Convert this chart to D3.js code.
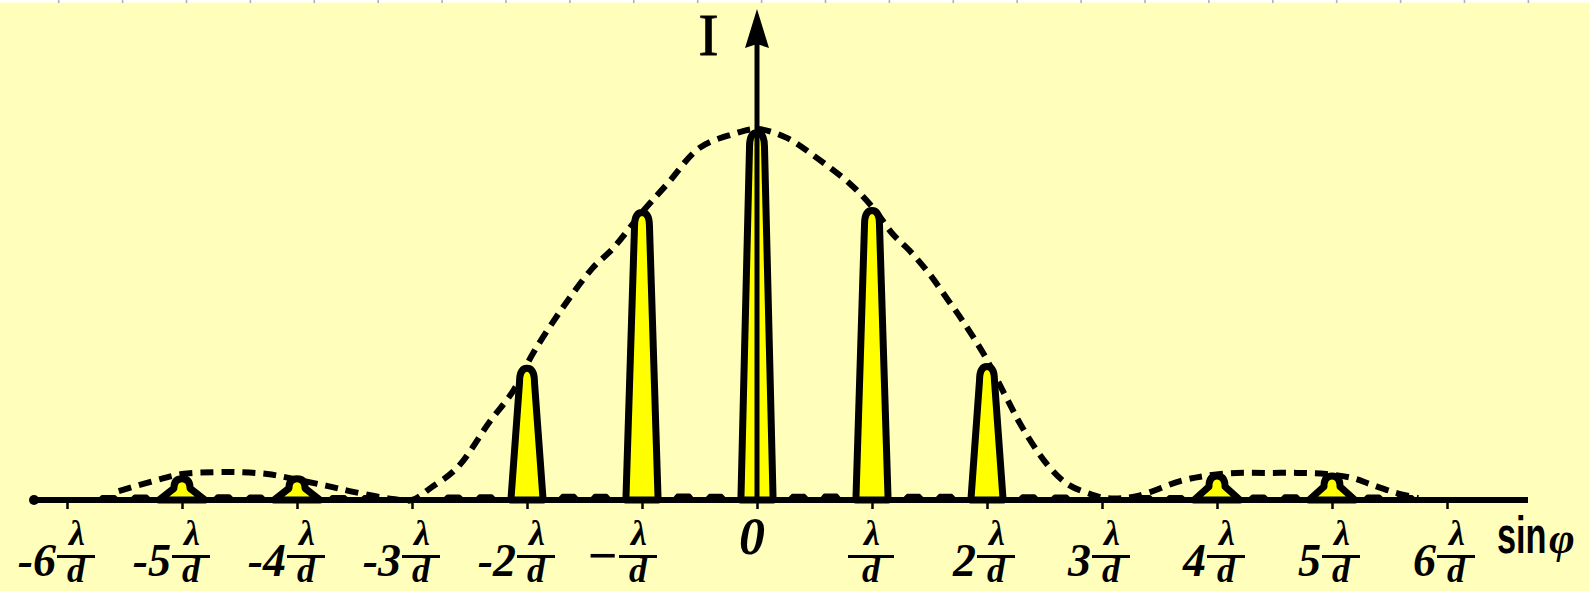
<!DOCTYPE html>
<html><head><meta charset="utf-8">
<script src="https://cdn.jsdelivr.net/npm/d3@7"></script>
<style>html,body{margin:0;padding:0;background:#ffffbb;overflow:hidden}</style>
</head><body>
<svg id="chart" width="1589" height="591"></svg>
<script>
// Diffraction grating intensity vs sin φ, x measured in units of λ/d
const orders    = [-6, -5, -4, -3, -2, -1, 0, 1, 2, 3, 4, 5, 6];
const orderCoef = ["-6", "-5", "-4", "-3", "-2", "\u2212", "0", "", "2", "3", "4", "5", "6"];

// Principal maxima, intensity in % of I0 (order ±3 falls on an envelope zero)
const peakOrders    = [-5, -4, -2, -1, 0, 1, 2, 4, 5];
const peakIntensity = [5.7, 5.7, 35.5, 77.5, 99, 78, 36, 6.5, 6.5];

// Weak secondary maxima between principal ones
const sideU = [-5.64, -5.36, -4.64, -4.36, -3.64, -3.36, -2.64, -2.36, -1.64, -1.36, -0.64, -0.36,
               0.36, 0.64, 1.36, 1.64, 2.36, 2.64, 3.36, 3.64, 4.36, 4.64, 5.36, 5.64];
const sideI = [0.9, 1.0, 1.1, 1.0, 0.9, 0.9, 1.0, 1.1, 1.2, 1.2, 1.3, 1.2,
               1.2, 1.3, 1.2, 1.2, 1.1, 1.0, 0.9, 0.9, 1.0, 1.1, 1.0, 0.9];

// Single-slit envelope (dashed)
const envU = [-5.55, -5.25, -5.0, -4.73, -4.5, -4.26, -4.03, -3.74, -3.51, -3.17, -3.0,
              -2.84, -2.61, -2.32, -2.12, -1.95, -1.69, -1.43, -1.25, -0.99, -0.78, -0.5, -0.21, 0,
              0.26, 0.52, 0.81, 1.01, 1.18, 1.33, 1.5, 1.65, 1.79, 1.97, 2.17, 2.31, 2.52, 2.7, 2.9, 3.04,
              3.3, 3.68, 3.9, 4.17, 4.43, 4.7, 4.95, 5.18, 5.33, 5.55, 5.75];
const envI = [2.4, 5.1, 7.0, 7.5, 7.5, 7.0, 5.7, 3.8, 2.2, 0.3, 0,
              3.2, 8.6, 21.3, 29.4, 39.4, 51.8, 62.5, 67.9, 77.9, 85.2, 94.9, 98.6, 100,
              97.6, 92.2, 85.2, 78.7, 71.7, 67.1, 60.9, 54.4, 48.2, 39.4, 27.5, 19.4, 9.7, 4.3, 1.6, 0.5,
              1.0, 5.1, 6.5, 7.3, 7.3, 7.3, 7.0, 5.9, 4.3, 2.0, 0.5];

const W = 1589, H = 591;
const BG = "#ffffbb", YEL = "#ffff00", INK = "#000";

const x = d3.scaleLinear().domain([-6, 6]).range([67, 1447]);
const y = d3.scaleLinear().domain([0, 100]).range([500, 129]);
const unit = x(1) - x(0);

const svg = d3.select("#chart");
svg.append("rect").attr("width", W).attr("height", H).attr("fill", BG);

// thin ruler strip along the top edge
svg.append("rect").attr("width", W).attr("height", 2.5).attr("fill", "#ffffff");
svg.append("g").selectAll("line").data(d3.range(0, 24)).join("line")
  .attr("x1", k => 58.7 + 63.9 * k).attr("x2", k => 58.7 + 63.9 * k)
  .attr("y1", 0).attr("y2", 3)
  .attr("stroke", "#a9b2c2").attr("stroke-width", 1.6);

// envelope
const env = envU.map((u, i) => [u, envI[i]]);
svg.append("path")
  .attr("d", d3.line().x(d => x(d[0])).y(d => y(d[1])).curve(d3.curveCatmullRom)(env))
  .attr("fill", "none").attr("stroke", INK).attr("stroke-width", 6)
  .attr("stroke-dasharray", "13,8");

// secondary maxima: small bumps on the axis
const side = sideU.map((u, i) => ({u, v: sideI[i]}));
svg.append("g").selectAll("path").data(side).join("path")
  .attr("d", d => {
    const cx = x(d.u), yb = y(0), yt = y(d.v), hw = 10;
    return `M${cx - hw},${yb} L${cx - hw * 0.6},${yt} L${cx + hw * 0.6},${yt} L${cx + hw},${yb} Z`;
  })
  .attr("fill", d => (d.u > -1 && d.u < 3) ? "#ffffff" : YEL)
  .attr("stroke", INK).attr("stroke-width", 3.5).attr("stroke-linejoin", "round");

// principal maxima
const peaks = peakOrders.map((m, i) => ({m, v: peakIntensity[i]}));
function peakPath(d) {
  const cx = x(d.m), yb = y(0), yt = y(d.v), h = yb - yt;
  const small = h < 40;
  const hb = (small ? 0.2 : 0.14) * unit;
  const ht = (small ? 0.07 : 0.065) * unit;
  const cap = small ? h * 0.45 : 14;
  return `M${cx - hb},${yb} L${cx - ht},${yt + cap} Q${cx - ht},${yt} ${cx},${yt}` +
         ` Q${cx + ht},${yt} ${cx + ht},${yt + cap} L${cx + hb},${yb} Z`;
}
svg.append("g").selectAll("path").data(peaks).join("path")
  .attr("d", peakPath)
  .attr("fill", YEL).attr("stroke", INK).attr("stroke-width", 7).attr("stroke-linejoin", "round");

// horizontal axis
svg.append("line").attr("x1", 33).attr("x2", 1528).attr("y1", y(0)).attr("y2", y(0))
  .attr("stroke", INK).attr("stroke-width", 6);
svg.append("circle").attr("cx", 34).attr("cy", y(0)).attr("r", 5).attr("fill", INK);
const axis = svg.append("g").attr("transform", `translate(0,${y(0)})`)
  .call(d3.axisBottom(x).tickValues(orders).tickSize(9).tickFormat(""));
axis.select(".domain").remove();
axis.selectAll(".tick line").attr("stroke", INK).attr("stroke-width", 2.5);

// vertical axis I with arrow
svg.append("line").attr("x1", x(0)).attr("x2", x(0)).attr("y1", y(0)).attr("y2", 44)
  .attr("stroke", INK).attr("stroke-width", 5);
svg.append("path")
  .attr("d", `M${x(0)},9 L${x(0) + 12},48 L${x(0)},44 L${x(0) - 12},48 Z`)
  .attr("fill", INK);
svg.append("text").attr("x", 708.5).attr("y", 55)
  .attr("text-anchor", "middle").attr("font-family", "Liberation Serif, serif")
  .attr("font-size", 60).attr("fill", INK).attr("stroke", INK).attr("stroke-width", 0.8)
  .text("I");

// tick labels: coefficient followed by the fraction λ/d
const FONT = "Liberation Serif, DejaVu Serif, serif";
const lab = svg.append("g").selectAll("g").data(orders.map((m, i) => ({m, c: orderCoef[i]}))).join("g");
lab.each(function(d) {
  const g = d3.select(this);
  const tx = x(d.m);
  if (d.c === "0") {
    g.append("text").attr("x", tx - 5).attr("y", 554).attr("text-anchor", "middle")
      .attr("font-family", FONT).attr("font-style", "italic").attr("font-weight", "bold")
      .attr("font-size", 52).attr("fill", INK).text("0");
    return;
  }
  const fc = d.c === "" ? tx - 1 : (d.c === "\u2212" ? tx - 4 : tx + 9);
  const bw = d.c === "" ? 46 : 38;
  g.append("rect").attr("x", fc - bw / 2).attr("y", 555).attr("width", bw).attr("height", 3).attr("fill", INK);
  g.append("text").attr("x", fc + 1).attr("y", 545).attr("text-anchor", "middle")
    .attr("font-family", FONT).attr("font-style", "italic").attr("font-weight", "bold")
    .attr("font-size", 36).attr("fill", INK).text("\u03bb");
  g.append("text").attr("x", fc).attr("y", 582).attr("text-anchor", "middle")
    .attr("font-family", FONT).attr("font-style", "italic").attr("font-weight", "bold")
    .attr("font-size", 36).attr("fill", INK).text("d");
  if (d.c !== "") {
    g.append("text").attr("x", fc - bw / 2 - 1).attr("y", d.c === "\u2212" ? 573 : 576)
      .attr("text-anchor", "end")
      .attr("font-family", FONT).attr("font-style", "italic").attr("font-weight", "bold")
      .attr("font-size", d.c === "\u2212" ? 52 : 46).attr("fill", INK).text(d.c);
  }
});

// axis title sin φ
svg.append("text").attr("transform", "translate(1497,553) scale(0.66,1)")
  .attr("font-family", "Liberation Sans, Arial, sans-serif").attr("font-weight", "bold")
  .attr("font-size", 52).attr("fill", INK).text("sin");
svg.append("text").attr("x", 1549).attr("y", 553)
  .attr("font-family", FONT).attr("font-style", "italic").attr("font-weight", "bold")
  .attr("font-size", 44).attr("fill", INK).text("\u03c6");
</script>
</body></html>
